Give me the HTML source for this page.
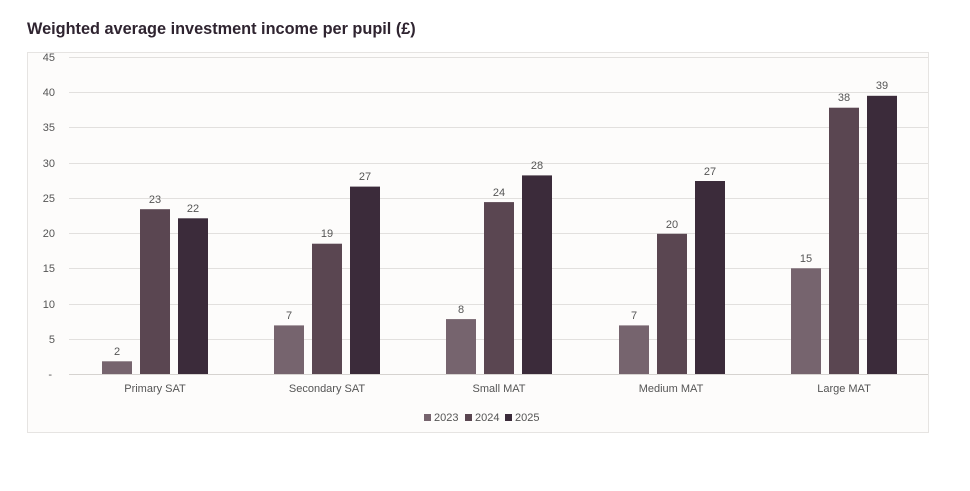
<!DOCTYPE html><html><head><style>body{margin:0;background:#fff;width:970px;height:486px;overflow:hidden;font-family:"Liberation Sans",sans-serif}</style></head><body>
<svg width="970" height="486" xmlns="http://www.w3.org/2000/svg" font-family="Liberation Sans, sans-serif">
<text x="27" y="34" font-size="16.3" font-weight="bold" fill="#2f2430">Weighted average investment income per pupil (£)</text>
<rect x="27.5" y="52.5" width="901" height="380" fill="#fdfcfb" stroke="#e6e4e2"/>
<g stroke="#e2e0de" stroke-width="1">
<line x1="69" x2="928" y1="57.5" y2="57.5"/><line x1="69" x2="928" y1="92.5" y2="92.5"/><line x1="69" x2="928" y1="127.5" y2="127.5"/><line x1="69" x2="928" y1="163.5" y2="163.5"/><line x1="69" x2="928" y1="198.5" y2="198.5"/><line x1="69" x2="928" y1="233.5" y2="233.5"/><line x1="69" x2="928" y1="268.5" y2="268.5"/><line x1="69" x2="928" y1="304.5" y2="304.5"/><line x1="69" x2="928" y1="339.5" y2="339.5"/><line x1="69" x2="928" y1="374.5" y2="374.5" stroke="#d6d3d0"/>
</g>
<g font-size="11" fill="#555" text-anchor="end">
<text x="55" y="61">45</text><text x="55" y="96">40</text><text x="55" y="131">35</text><text x="55" y="167">30</text><text x="55" y="202">25</text><text x="55" y="237">20</text><text x="55" y="272">15</text><text x="55" y="308">10</text><text x="55" y="343">5</text><text x="52" y="378">-</text>
</g>
<g>
<rect x="102" y="361.3" width="30" height="12.7" fill="#76646e"/><rect x="140" y="209.2" width="30" height="164.8" fill="#5a4651"/><rect x="178" y="218.3" width="30" height="155.7" fill="#3b2b3a"/>
<rect x="274" y="325.4" width="30" height="48.6" fill="#76646e"/><rect x="312" y="243.7" width="30" height="130.3" fill="#5a4651"/><rect x="350" y="186.6" width="30" height="187.4" fill="#3b2b3a"/>
<rect x="446" y="319.1" width="30" height="54.9" fill="#76646e"/><rect x="484" y="202.1" width="30" height="171.9" fill="#5a4651"/><rect x="522" y="175.4" width="30" height="198.6" fill="#3b2b3a"/>
<rect x="619" y="325.4" width="30" height="48.6" fill="#76646e"/><rect x="657" y="233.8" width="30" height="140.2" fill="#5a4651"/><rect x="695" y="181" width="30" height="193" fill="#3b2b3a"/>
<rect x="791" y="268.3" width="30" height="105.7" fill="#76646e"/><rect x="829" y="107.7" width="30" height="266.3" fill="#5a4651"/><rect x="867" y="95.8" width="30" height="278.2" fill="#3b2b3a"/>
</g>
<g font-size="11" fill="#555" text-anchor="middle">
<text x="117" y="355">2</text><text x="155" y="203">23</text><text x="193" y="212">22</text>
<text x="289" y="319">7</text><text x="327" y="237">19</text><text x="365" y="180">27</text>
<text x="461" y="313">8</text><text x="499" y="196">24</text><text x="537" y="169">28</text>
<text x="634" y="319">7</text><text x="672" y="228">20</text><text x="710" y="175">27</text>
<text x="806" y="262">15</text><text x="844" y="101">38</text><text x="882" y="89">39</text>
</g>
<g font-size="11" fill="#555" text-anchor="middle">
<text x="155" y="392">Primary SAT</text><text x="327" y="392">Secondary SAT</text><text x="499" y="392">Small MAT</text><text x="671" y="392">Medium MAT</text><text x="844" y="392">Large MAT</text>
</g>
<g font-size="11" fill="#555">
<rect x="424" y="414" width="7" height="7" fill="#76646e"/><text x="434" y="421">2023</text>
<rect x="465" y="414" width="7" height="7" fill="#5a4651"/><text x="475" y="421">2024</text>
<rect x="505" y="414" width="7" height="7" fill="#3b2b3a"/><text x="515" y="421">2025</text>
</g>
</svg></body></html>
